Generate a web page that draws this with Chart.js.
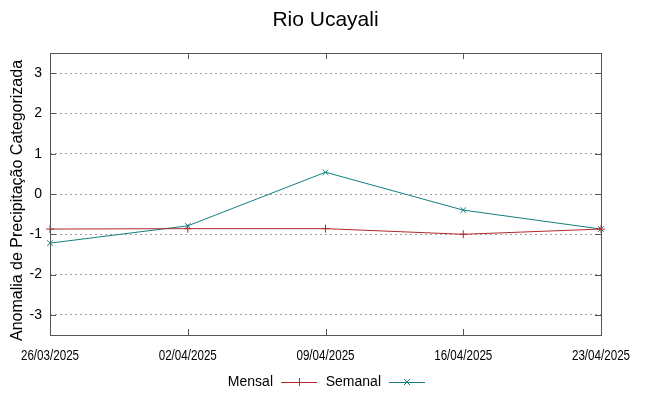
<!DOCTYPE html>
<html><head><meta charset="utf-8">
<script src="https://cdn.jsdelivr.net/npm/chart.js@4"></script>
<style>html,body{margin:0;padding:0;background:#fff}canvas{display:block}</style>
</head><body>
<canvas id="c" width="649" height="396"></canvas>
<script>
const chartTitle = 'Rio Ucayali';
const yAxisTitle = 'Anomalia de Precipitação Categorizada';
const dates = ['26/03/2025','02/04/2025','09/04/2025','16/04/2025','23/04/2025'];
const mensal = [-0.87, -0.86, -0.86, -1.0, -0.87];
const semanal = [-1.22, -0.79, 0.54, -0.40, -0.87];
const yTicks = [-3,-2,-1,0,1,2,3];
const yMin = -3.5, yMax = 3.5;

const FONT = "'Liberation Sans', Arial, sans-serif";
const RED = '#b3282a', TEAL = '#117f7f';

const framePlugin = {
  id: 'frame',
  afterDraw(chart) {
    const ctx = chart.ctx, a = chart.chartArea;
    const xs = chart.scales.x, ys = chart.scales.y;
    ctx.save();
    ctx.strokeStyle = '#555'; ctx.lineWidth = 1;
    ctx.strokeRect(Math.round(a.left)+0.5, Math.round(a.top)+0.5, Math.round(a.right-a.left), Math.round(a.bottom-a.top));
    const tl = 6;
    ctx.beginPath();
    ys.ticks.forEach(t => {
      const y = Math.round(ys.getPixelForValue(t.value)) + 0.5;
      ctx.moveTo(a.left, y); ctx.lineTo(a.left + tl, y);
      ctx.moveTo(a.right, y); ctx.lineTo(a.right - tl, y);
    });
    xs.ticks.forEach((t, i) => {
      const x = Math.round(xs.getPixelForTick(i)) + 0.5;
      ctx.moveTo(x, a.bottom); ctx.lineTo(x, a.bottom - tl);
      ctx.moveTo(x, a.top); ctx.lineTo(x, a.top + tl);
    });
    ctx.stroke();
    ctx.fillStyle = '#000';
    ctx.textAlign = 'center'; ctx.textBaseline = 'middle';
    // x tick labels (condensed)
    ctx.font = '14px ' + FONT;
    xs.ticks.forEach((t, i) => {
      const x = xs.getPixelForTick(i);
      ctx.save();
      ctx.translate(x, 356);
      ctx.scale(0.83, 1);
      ctx.fillText(xs.getLabelForValue(t.value), 0, 0);
      ctx.restore();
    });
    // title
    ctx.font = '21px ' + FONT;
    ctx.fillText(chartTitle, (a.left + a.right) / 2, 20);
    // y axis title
    ctx.save();
    ctx.translate(18, 200.5);
    ctx.rotate(-Math.PI / 2);
    ctx.font = '16px ' + FONT;
    ctx.fillText(yAxisTitle, 0, 0);
    ctx.restore();
    // legend
    ctx.font = '14px ' + FONT;
    const ly = 382;
    const items = [{x: 273}, {x: 381}];
    chart.data.datasets.forEach((ds, i) => {
      const tx = items[i].x;
      ctx.fillStyle = '#000'; ctx.textAlign = 'right';
      ctx.fillText(ds.label, tx, ly);
      const x0 = tx + 8, x1 = tx + 44, xm = (x0 + x1) / 2;
      ctx.strokeStyle = ds.borderColor; ctx.lineWidth = 1;
      ctx.beginPath(); ctx.moveTo(x0, ly + 0.5); ctx.lineTo(x1, ly + 0.5);
      const r = 4;
      if (ds.pointStyle === 'cross') {
        ctx.moveTo(xm + 0.5, ly - r); ctx.lineTo(xm + 0.5, ly + r);
      } else {
        ctx.moveTo(xm - 3, ly - 3); ctx.lineTo(xm + 3, ly + 3);
        ctx.moveTo(xm - 3, ly + 3); ctx.lineTo(xm + 3, ly - 3);
      }
      ctx.stroke();
    });
    ctx.restore();
  }
};

new Chart(document.getElementById('c'), {
  type: 'line',
  data: {
    labels: dates,
    datasets: [
      {label: 'Mensal', data: mensal, borderColor: RED, backgroundColor: RED, borderWidth: 1,
       pointStyle: 'cross', pointRadius: 4, pointBorderWidth: 1, tension: 0, fill: false},
      {label: 'Semanal', data: semanal, borderColor: TEAL, backgroundColor: TEAL, borderWidth: 1,
       pointStyle: 'crossRot', pointRadius: 4, pointBorderWidth: 1, tension: 0, fill: false}
    ]
  },
  options: {
    responsive: false, animation: false,
    layout: {padding: {top: 53, right: 48, bottom: 0, left: 0}},
    plugins: {legend: {display: false}, title: {display: false}, tooltip: {enabled: false}},
    scales: {
      x: {
        type: 'category', offset: false,
        grid: {display: false, drawTicks: false},
        border: {display: false},
        ticks: {display: false, autoSkip: false},
        afterFit(s) { s.height = 396 - 335; }
      },
      y: {
        min: yMin, max: yMax,
        afterBuildTicks(s) { s.ticks = yTicks.map(v => ({value: v})); },
        grid: {color: '#a0a0a0', lineWidth: 1, drawTicks: false},
        border: {display: false, dash: [2, 3]},
        ticks: {color: '#000', font: {family: FONT, size: 14}, padding: 8},
        afterFit(s) { s.width = 50; }
      }
    }
  },
  plugins: [framePlugin]
});
</script>
</body></html>
